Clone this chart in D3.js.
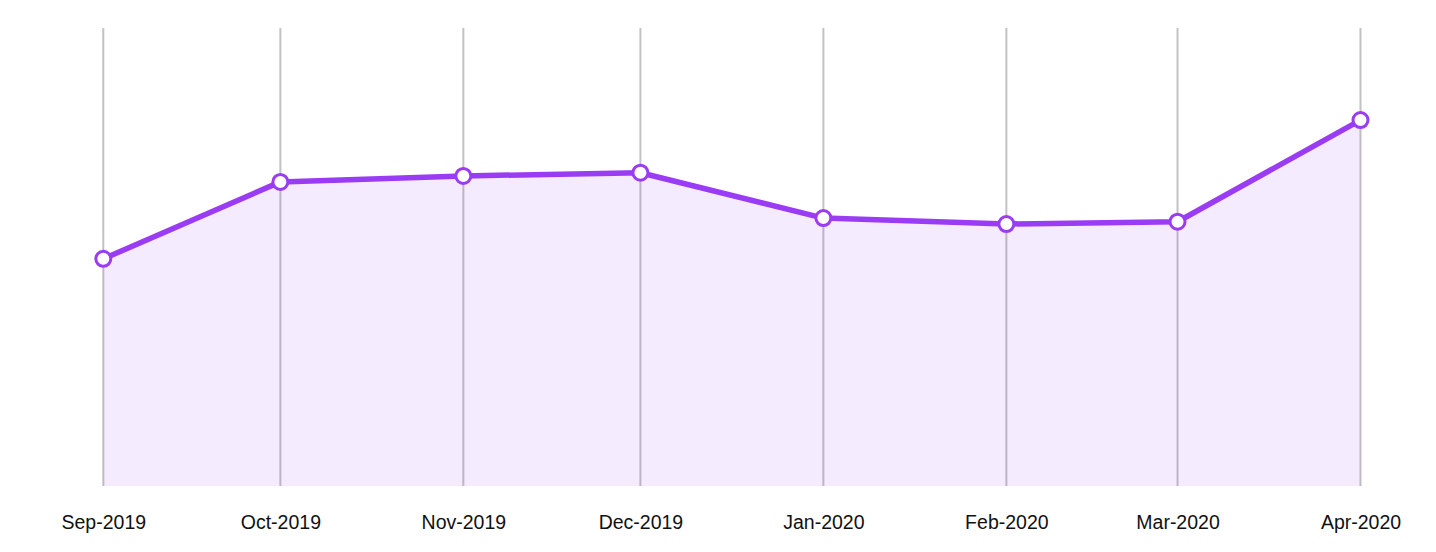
<!DOCTYPE html>
<html><head><meta charset="utf-8">
<script src="https://cdn.jsdelivr.net/npm/d3@7"></script>
<style>html,body{margin:0;padding:0;background:#fff;}</style>
</head><body>
<svg id="c" width="1436" height="552"></svg>
<script>
const months = ["2019-09","2019-10","2019-11","2019-12","2020-01","2020-02","2020-03","2020-04"];
const tickLabels = ["Sep-2019","Oct-2019","Nov-2019","Dec-2019","Jan-2020","Feb-2020","Mar-2020","Apr-2020"];
const values = [49.6, 66.4, 67.7, 68.4, 58.5, 57.2, 57.7, 79.9];

const parse = d3.timeParse("%Y-%m");
const data = months.map((m,i)=>({date:parse(m), value:values[i]}));
const svg = d3.select("#c");
const x = d3.scaleTime().domain(d3.extent(data,d=>d.date)).range([103.3,1360.5]);
const y = d3.scaleLinear().domain([0,100]).range([486,28]);

svg.append("g").selectAll("line").data(data).join("line")
  .attr("x1",d=>x(d.date)).attr("x2",d=>x(d.date))
  .attr("y1",y(100)).attr("y2",y(0))
  .attr("stroke","#c2c2c2").attr("stroke-width",2);

svg.append("path").datum(data)
  .attr("d",d3.area().x(d=>x(d.date)).y0(y(0)).y1(d=>y(d.value)))
  .attr("fill","#9b3cf5").attr("fill-opacity",0.1);

svg.append("path").datum(data)
  .attr("d",d3.line().x(d=>x(d.date)).y(d=>y(d.value)))
  .attr("fill","none").attr("stroke","#9b3cf5").attr("stroke-width",5.5).attr("stroke-linejoin","round");

svg.append("g").selectAll("circle").data(data).join("circle")
  .attr("cx",d=>x(d.date)).attr("cy",d=>y(d.value)).attr("r",7.5)
  .attr("fill","#fff").attr("stroke","#9b3cf5").attr("stroke-width",3);

const ax = d3.axisBottom(x).tickValues(data.map(d=>d.date))
  .tickFormat((d,i)=>tickLabels[i]).tickSize(0).tickPadding(0);
const g = svg.append("g").attr("transform","translate(0,522)").call(ax);
g.select(".domain").remove();
g.selectAll("text").attr("font-family","Liberation Sans, Arial, sans-serif")
  .attr("font-size",19.5).attr("fill","#111").attr("dy","0.35em");
</script>
</body></html>
